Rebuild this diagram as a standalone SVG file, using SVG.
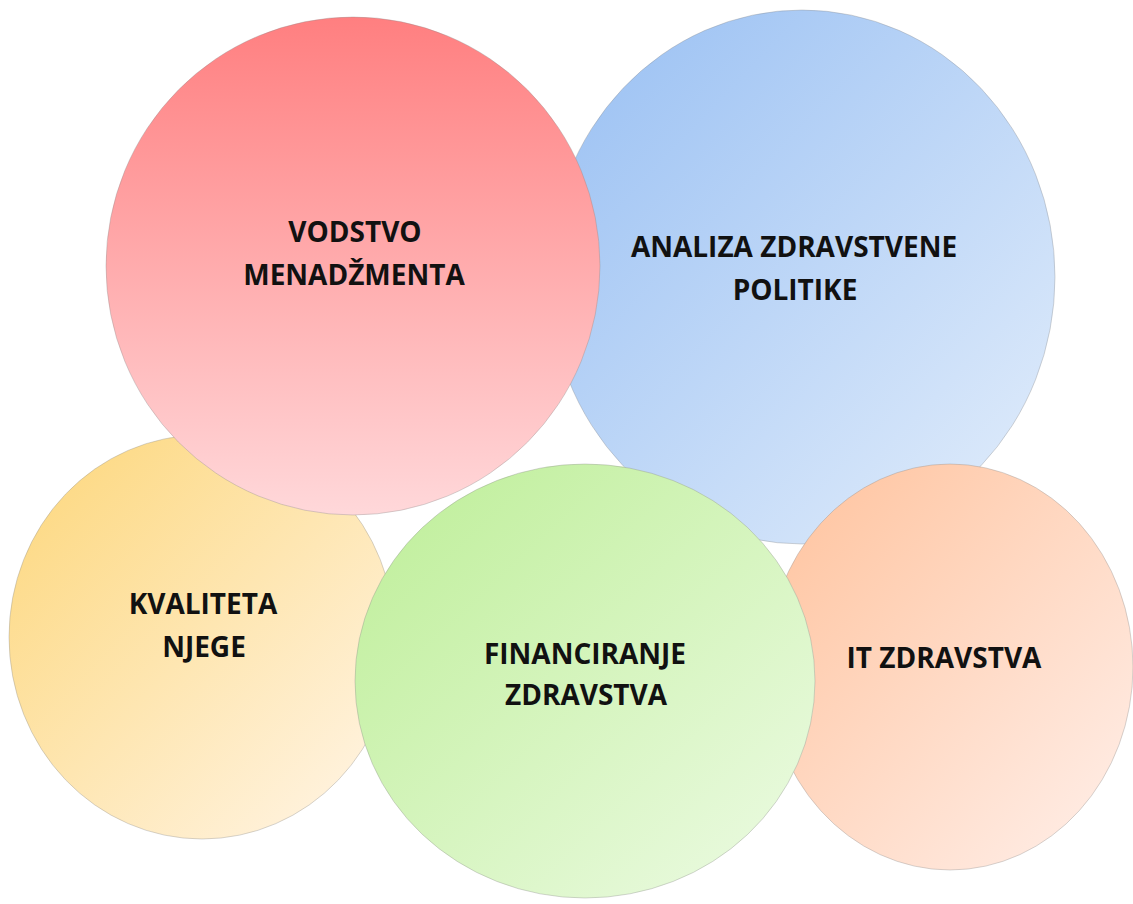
<svg xmlns="http://www.w3.org/2000/svg" width="1133" height="904" viewBox="0 0 1133 904">
  <style>
    .bubble { stroke: #8a8a8a; stroke-opacity: 0.35; stroke-width: 1; }
    .label { font-family: "Open Sans", "Liberation Sans", sans-serif; font-weight: 700; font-size: 28px; fill: #111111; text-anchor: middle; }
  </style>
  <defs>
    <linearGradient id="gRed" x1="0" y1="0" x2="0" y2="1">
      <stop offset="0" stop-color="#FF7F80"/>
      <stop offset="1" stop-color="#FFD8DA"/>
    </linearGradient>
    <linearGradient id="gBlue" x1="0.15" y1="0.15" x2="0.85" y2="0.85">
      <stop offset="0" stop-color="#A3C6F4"/>
      <stop offset="1" stop-color="#D8E7FA"/>
    </linearGradient>
    <linearGradient id="gYellow" x1="0.15" y1="0.15" x2="0.85" y2="0.85">
      <stop offset="0" stop-color="#FDDB8A"/>
      <stop offset="1" stop-color="#FFF1D9"/>
    </linearGradient>
    <linearGradient id="gGreen" x1="0.15" y1="0.15" x2="0.85" y2="0.85">
      <stop offset="0" stop-color="#C4F0A2"/>
      <stop offset="1" stop-color="#E6F9D9"/>
    </linearGradient>
    <linearGradient id="gPeach" x1="0.15" y1="0.15" x2="0.85" y2="0.85">
      <stop offset="0" stop-color="#FFC9A8"/>
      <stop offset="1" stop-color="#FFE9DF"/>
    </linearGradient>
  </defs>
  <rect x="0" y="0" width="1133" height="904" fill="#FFFFFF"/>

  <g id="analiza">
    <ellipse class="bubble" cx="802" cy="277" rx="253" ry="267" fill="url(#gBlue)"/>
    <text class="label" x="794" y="257">ANALIZA ZDRAVSTVENE</text>
    <text class="label" x="795" y="300">POLITIKE</text>
  </g>

  <g id="it">
    <ellipse class="bubble" cx="950" cy="667" rx="183" ry="203" fill="url(#gPeach)"/>
    <text class="label" x="944" y="668">IT ZDRAVSTVA</text>
  </g>

  <g id="kvaliteta">
    <ellipse class="bubble" cx="202" cy="637" rx="193" ry="202" fill="url(#gYellow)"/>
    <text class="label" x="203" y="614">KVALITETA</text>
    <text class="label" x="204" y="657">NJEGE</text>
  </g>

  <g id="vodstvo">
    <ellipse class="bubble" cx="353" cy="266" rx="247" ry="249" fill="url(#gRed)"/>
    <text class="label" x="355" y="242">VODSTVO</text>
    <text class="label" x="354" y="285">MENADŽMENTA</text>
  </g>

  <g id="financiranje">
    <ellipse class="bubble" cx="585" cy="681" rx="230" ry="217" fill="url(#gGreen)"/>
    <text class="label" x="585" y="664">FINANCIRANJE</text>
    <text class="label" x="586" y="705">ZDRAVSTVA</text>
  </g>

  <g id="connectors"></g>
</svg>
